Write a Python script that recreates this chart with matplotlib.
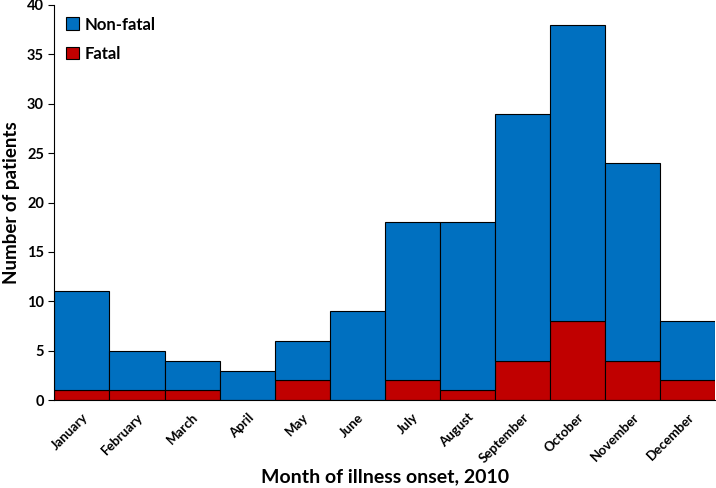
import matplotlib
matplotlib.use("Agg")
import matplotlib.pyplot as plt
import numpy as np

plt.rcParams['font.family'] = ['Lato', 'DejaVu Sans']

months = ["January", "February", "March", "April", "May", "June", "July",
          "August", "September", "October", "November", "December"]
total = [11, 5, 4, 3, 6, 9, 18, 18, 29, 38, 24, 8]
fatal = [1, 1, 1, 0, 2, 0, 2, 1, 4, 8, 4, 2]
nonfatal = [t - f for t, f in zip(total, fatal)]

blue = "#0070C0"
red = "#C00000"

fig = plt.figure(figsize=(7.16, 4.88), dpi=100)
ax = fig.add_axes([0.076, 0.18, 0.923, 0.81])

x = np.arange(len(months))
ax.bar(x, fatal, width=1.0, color=red, edgecolor="black", linewidth=0.8, label="Fatal")
ax.bar(x, nonfatal, width=1.0, bottom=fatal, color=blue, edgecolor="black",
       linewidth=0.8, label="Non-fatal")

ax.set_xlim(-0.5, 11.5)
ax.set_ylim(0, 40)
ax.set_yticks(range(0, 41, 5))
ax.tick_params(axis="y", labelsize=10.5, length=4, direction="out")
for lab in ax.get_yticklabels():
    lab.set_fontweight("bold")

ax.set_xticks(x)
ax.set_xticklabels(months, rotation=45, ha="right", rotation_mode="anchor",
                   fontsize=9.5, fontweight="bold")
ax.tick_params(axis="x", length=0, pad=8)

ax.spines["top"].set_visible(False)
ax.spines["right"].set_visible(False)

ax.set_ylabel("Number of patients", fontsize=13.5, fontweight="bold")
ax.yaxis.set_label_coords(-0.052, 0.5)
ax.set_xlabel("Month of illness onset, 2010", fontsize=14, fontweight="bold", labelpad=2)

handles, labels = ax.get_legend_handles_labels()
ax.legend(handles[::-1], labels[::-1], loc="upper left", frameon=False,
          prop={"size": 12, "weight": "bold"}, handlelength=0.8, handleheight=0.8,
          handletextpad=0.3, labelspacing=0.8, borderaxespad=0.3,
          bbox_to_anchor=(0.0, 1.0))

fig.savefig("out.png", dpi=100)
